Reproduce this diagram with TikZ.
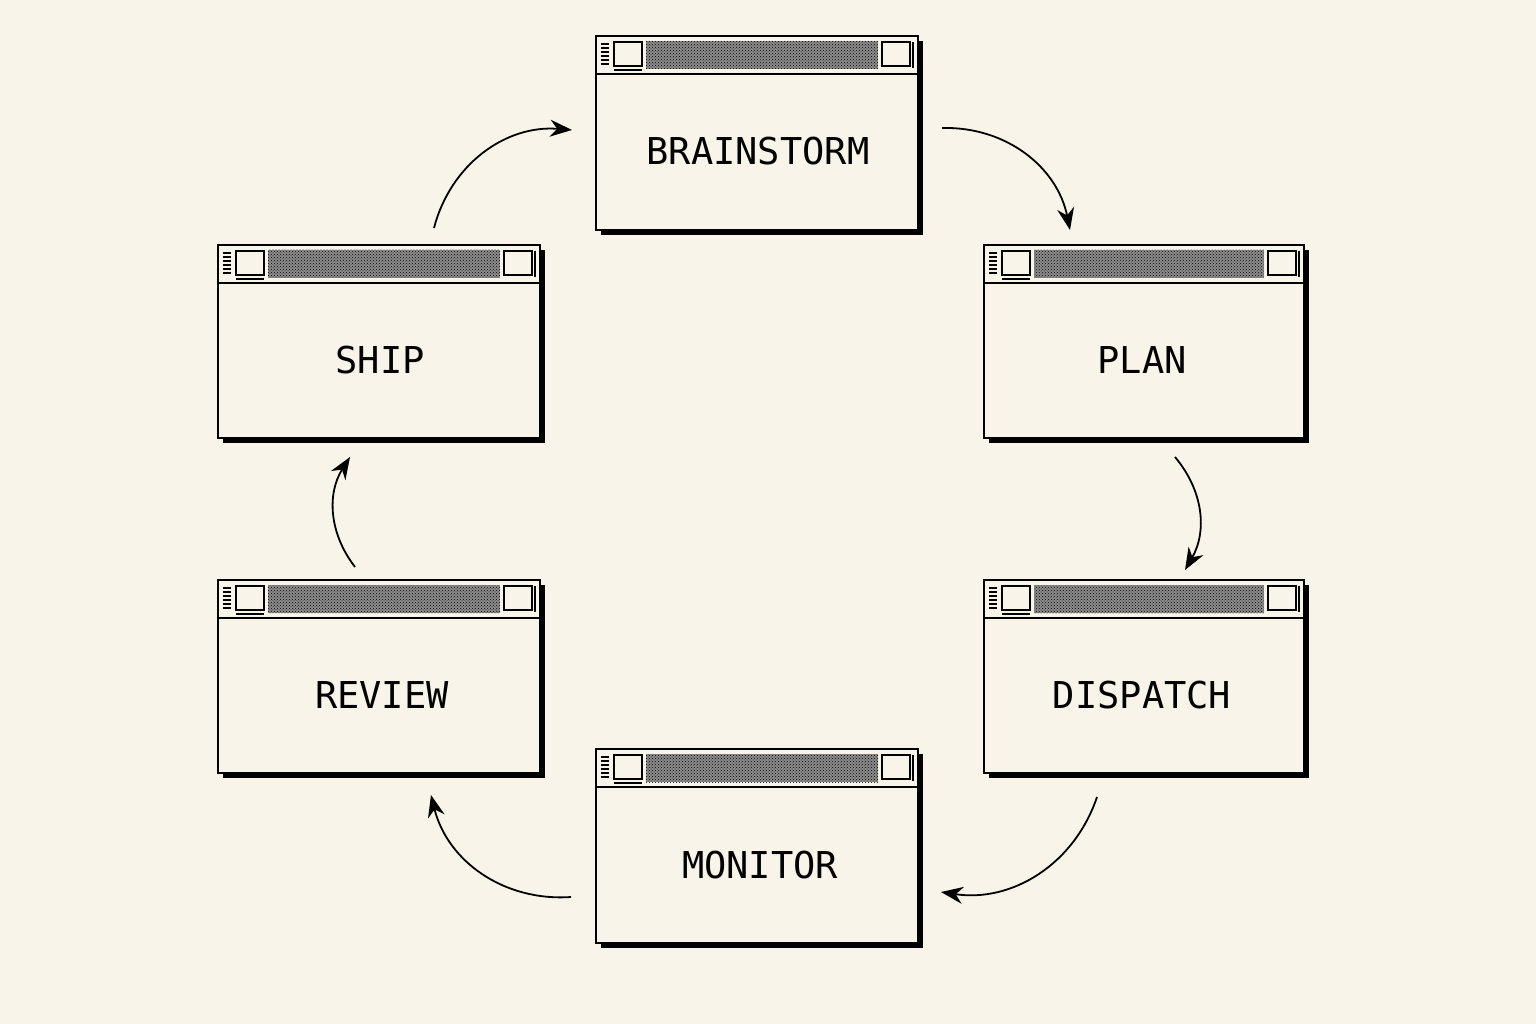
\documentclass[tikz,border=0pt]{standalone}
\usepackage{fontspec}
\setmainfont{DejaVu Sans Mono}
\usetikzlibrary{patterns,arrows.meta}
\definecolor{bg}{HTML}{F8F4EA}
\tikzset{
  lbl/.style={font=\fontsize{37}{40}\selectfont, text=black},
  arr/.style={line width=1.8pt, -{Stealth[length=22pt,width=17pt]}, bend left=#1},
  arr/.default=40
}
\newcommand{\win}[5]{% name, x0, y0, x1, y1
  \fill[black] (#2+5,#3+5) rectangle (#4+5,#5+5);
  \draw[line width=2.2pt, fill=bg] (#2,#3) rectangle (#4,#5);
  \draw[line width=2pt] (#2,#3+38) -- (#4,#3+38);
  \fill[black!45] (#2+50,#3+5) rectangle (#4-40,#3+33);
  \fill[pattern=crosshatch dots, pattern color=black] (#2+50,#3+5) rectangle (#4-40,#3+33);
  \draw[line width=2pt] (#2+18,#3+6) rectangle (#2+46,#3+30);
  \draw[line width=2pt] (#4-36,#3+6) rectangle (#4-8,#3+30);
  \foreach \k in {0,...,5}{\draw[line width=1.2pt] (#2+5,#3+8+\k*4) -- (#2+13,#3+8+\k*4);}
  \draw[line width=2pt] (#2+18,#3+34) -- (#2+46,#3+34);
  \draw[line width=1.2pt] (#4-5,#3+6) -- (#4-5,#3+32);
  \coordinate (#1) at ({(#2+#4)/2},{(#3+38+#5)/2});
}
\begin{document}
\begin{tikzpicture}[x=1pt,y=-1pt]
\fill[bg] (0,0) rectangle (1536,1024);
\useasboundingbox (0,0) rectangle (1536,1024);
\win{b}{596}{36}{918}{230}
\win{p}{984}{245}{1304}{438}
\win{d}{984}{580}{1304}{773}
\win{m}{596}{749}{918}{943}
\win{s}{218}{245}{540}{438}
\win{r}{218}{580}{540}{773}
\node[lbl] (tb) at (758,151) {BRAINSTORM};
\node[lbl] (tp) at (1142,360) {PLAN};
\node[lbl] (td) at (1142,695) {DISPATCH};
\node[lbl] (tm) at (760,865) {MONITOR};
\node[lbl] (ts) at (380,360) {SHIP};
\node[lbl] (tr) at (382,695) {REVIEW};
\coordinate (a1) at (942,128); \coordinate (a2) at (1070,230);
\coordinate (b1) at (1175,457); \coordinate (b2) at (1185,570);
\coordinate (c1) at (1097,797); \coordinate (c2) at (941,892);
\coordinate (d1) at (571,897); \coordinate (d2) at (431,795);
\coordinate (e1) at (355,567); \coordinate (e2) at (350,457);
\coordinate (f1) at (434,228); \coordinate (f2) at (572,130);
\draw[arr] (a1) to (a2);
\draw[arr=35] (b1) to (b2);
\draw[arr] (c1) to (c2);
\draw[arr] (d1) to (d2);
\draw[arr=35] (e1) to (e2);
\draw[arr] (f1) to (f2);
\end{tikzpicture}
\end{document}
